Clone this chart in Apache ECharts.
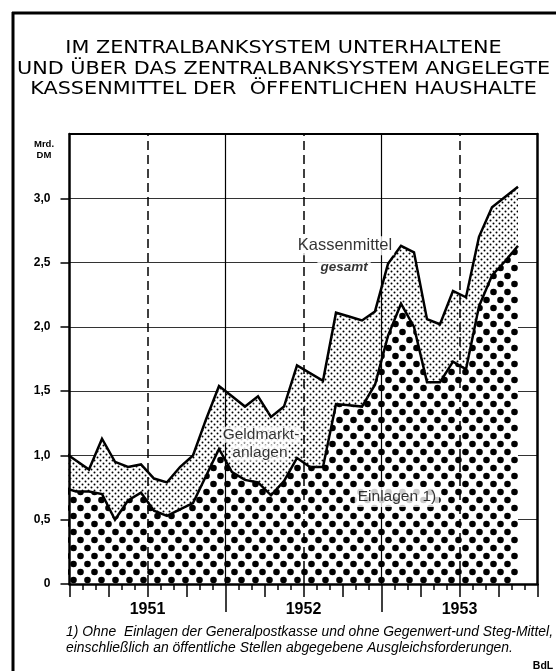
<!DOCTYPE html>
<html><head><meta charset="utf-8">
<script src="https://cdn.jsdelivr.net/npm/echarts@6/dist/echarts.min.js"></script>
<style>html,body{margin:0;padding:0;background:#fff}#c{width:556px;height:671px}</style>
</head><body><div id="c"></div>
<script>
// ---- data (Mrd. DM), monthly, Dez 1950 .. Nov 1953 ----
const months = ['Dez 1950',
  'Jan 1951','Feb 1951','Mär 1951','Apr 1951','Mai 1951','Jun 1951','Jul 1951','Aug 1951','Sep 1951','Okt 1951','Nov 1951','Dez 1951',
  'Jan 1952','Feb 1952','Mär 1952','Apr 1952','Mai 1952','Jun 1952','Jul 1952','Aug 1952','Sep 1952','Okt 1952','Nov 1952','Dez 1952',
  'Jan 1953','Feb 1953','Mär 1953','Apr 1953','Mai 1953','Jun 1953','Jul 1953','Aug 1953','Sep 1953','Okt 1953','Nov 1953'];
const kassenmittelGesamt = [1.03,0.96,0.89,1.13,0.95,0.91,0.93,0.82,0.79,0.91,1.00,1.28,
  1.54,1.46,1.38,1.46,1.30,1.38,1.70,1.64,1.58,2.11,2.08,2.05,
  2.12,2.49,2.63,2.58,2.06,2.02,2.28,2.23,2.70,2.93,3.01,3.09];
const einlagen = [0.75,0.72,0.72,0.70,0.50,0.65,0.71,0.57,0.53,0.58,0.63,0.84,
  1.05,0.87,0.81,0.79,0.69,0.80,0.98,0.91,0.91,1.40,1.39,1.38,
  1.55,1.93,2.18,2.00,1.57,1.57,1.73,1.67,2.16,2.40,2.51,2.63];
const yearLabels = ['1951','1952','1953'];
const yTicks = [0,0.5,1.0,1.5,2.0,2.5,3.0];
const titleLines = ['IM ZENTRALBANKSYSTEM UNTERHALTENE',
  'UND ÜBER DAS ZENTRALBANKSYSTEM ANGELEGTE',
  'KASSENMITTEL DER  ÖFFENTLICHEN HAUSHALTE'];
const footnoteLines = ['1) Ohne  Einlagen der Generalpostkasse und ohne Gegenwert-und Steg-Mittel,',
  'einschließlich an öffentliche Stellen abgegebene Ausgleichsforderungen.'];

// months measured from 1 Jan 1951; each monthly value plotted at mid-month
const monthPos = i => i - 0.5;
const totalData = kassenmittelGesamt.map((v, i) => [monthPos(i), v]);
const einlagenData = einlagen.map((v, i) => [monthPos(i), v]);
const nMonths = yearLabels.length * 12;

function makePattern(w, h, dots, r) {
  const c = document.createElement('canvas'); c.width = w; c.height = h;
  const g = c.getContext('2d');
  g.fillStyle = '#fff'; g.fillRect(0, 0, w, h);
  g.fillStyle = '#000';
  dots.forEach(([x, y]) => { g.beginPath(); g.arc(x, y, r, 0, Math.PI * 2); g.fill(); });
  return c;
}
const finePattern = makePattern(6, 6, [[1.5, 1.5], [4.5, 4.5]], 1.0);
const bigPattern = makePattern(14, 16, [[3.5, 4], [10.5, 12]], 3.3);

function textWidth(text, font) {
  const g = document.createElement('canvas').getContext('2d');
  g.font = font; return g.measureText(text).width;
}
const titleFont = '17px "DejaVu Sans"';
const titleScale = 533 / textWidth(titleLines[1], titleFont);
const footFont = 'italic 14px "Liberation Sans"';
const footScale = 487 / textWidth(footnoteLines[0], footFont);

const chart = echarts.init(document.getElementById('c'), null, {renderer: 'canvas'});

const yearBounds = yearLabels.slice(1).map((_, i) => (i + 1) * 12);
const yearMids = yearLabels.map((_, i) => i * 12 + 6);

const labelStyle = {fontFamily: 'Liberation Sans', color: '#000', backgroundColor: '#fff'};

chart.setOption({
  backgroundColor: '#fff',
  animation: false,
  grid: {left: 69.5, right: 18.5, top: 134, bottom: 87, containLabel: false},
  xAxis: [
    {type: 'value', position: 'bottom', min: 0, max: nMonths, interval: 3, z: 10,
      axisLine: {show: true, onZero: false, lineStyle: {color: '#000', width: 2.5}},
      axisTick: {show: true, length: 13, lineStyle: {color: '#000', width: 1.5}},
      minorTick: {show: true, splitNumber: 3, length: 6, lineStyle: {color: '#000', width: 1.5}},
      axisLabel: {show: true, customValues: yearMids, margin: 18,
        formatter: v => yearLabels[Math.round((v - 6) / 12)],
        fontFamily: 'Liberation Sans', fontWeight: 'bold', fontSize: 16, color: '#000'},
      splitLine: {show: false}, minorSplitLine: {show: false}},
    {type: 'value', position: 'top', min: 0, max: nMonths,
      axisLine: {show: true, onZero: false, lineStyle: {color: '#000', width: 2}},
      axisTick: {show: false}, axisLabel: {show: false}, splitLine: {show: false}},
    {type: 'value', position: 'bottom', min: 0, max: nMonths, z: 10,
      axisLine: {show: false},
      axisTick: {show: true, customValues: yearBounds, length: 28, lineStyle: {color: '#000', width: 1.5}},
      axisLabel: {show: false}, splitLine: {show: false}}
  ],
  yAxis: [
    {type: 'value', position: 'left', min: 0, max: 3.5, interval: 0.5, z: 10,
      axisLine: {show: true, onZero: false, lineStyle: {color: '#000', width: 2.5}},
      axisTick: {show: true, customValues: yTicks, length: 9, lineStyle: {color: '#000', width: 1.5}},
      axisLabel: {show: true, customValues: yTicks, margin: 19,
        formatter: v => v === 0 ? '0' : v.toFixed(1).replace('.', ','),
        fontFamily: 'Liberation Sans', fontWeight: 'bold', fontSize: 12, color: '#000'},
      splitLine: {show: false}},
    {type: 'value', position: 'right', min: 0, max: 3.5, interval: 0.5,
      axisLine: {show: true, onZero: false, lineStyle: {color: '#000', width: 2.5}},
      axisTick: {show: false}, axisLabel: {show: false},
      splitLine: {show: true, lineStyle: {color: '#333', width: 1}}}
  ],
  series: [
    {type: 'line', name: 'raster', z: 1, xAxisIndex: 0, yAxisIndex: 0,
      data: [[0, 0]], showSymbol: false, symbol: 'none', lineStyle: {width: 0, opacity: 0},
      markLine: {silent: true, symbol: 'none', label: {show: false},
        data: yearBounds.map(v => ({xAxis: v, lineStyle: {color: '#000', width: 1.2, type: 'solid'}}))
          .concat(yearMids.map(v => ({xAxis: v, lineStyle: {color: '#000', width: 1.5, type: [9, 5]}})))}},
    {type: 'line', name: 'Kassenmittel gesamt', z: 2, xAxisIndex: 0, yAxisIndex: 0,
      data: totalData, symbol: 'none', clip: true,
      lineStyle: {color: '#000', width: 2.5, join: 'miter'},
      areaStyle: {color: {image: finePattern, repeat: 'repeat'}, opacity: 1}},
    {type: 'line', name: 'Einlagen', z: 3, xAxisIndex: 0, yAxisIndex: 0,
      data: einlagenData, symbol: 'none', clip: true,
      lineStyle: {color: '#000', width: 2.5, join: 'miter'},
      areaStyle: {color: {image: bigPattern, repeat: 'repeat'}, opacity: 1}},
    {type: 'scatter', name: 'labels', z: 10, xAxisIndex: 0, yAxisIndex: 0, symbolSize: 0, silent: true,
      label: {show: true, position: 'inside'},
      data: [
        {value: [21.19, 2.63], label: Object.assign({}, labelStyle, {formatter: 'Kassenmittel', fontSize: 16.5, padding: [1, 2]})},
        {value: [21.12, 2.466], label: Object.assign({}, labelStyle, {formatter: 'gesamt', fontSize: 13.5, fontStyle: 'italic', fontWeight: 'bold', padding: [0, 3]})},
        {value: [14.73, 1.16], label: Object.assign({}, labelStyle, {formatter: 'Geldmarkt-', fontSize: 15.5, padding: [0, 1]})},
        {value: [14.65, 1.02], label: Object.assign({}, labelStyle, {formatter: 'anlagen', fontSize: 15.5, padding: [0, 1]})},
        {value: [25.19, 0.677], label: Object.assign({}, labelStyle, {formatter: 'Einlagen 1)', fontSize: 15.5, padding: [2, 3]})}
      ]}
  ],
  graphic: [
    {type: 'line', shape: {x1: 13, y1: 12, x2: 13, y2: 671}, style: {stroke: '#000', lineWidth: 3}},
    {type: 'line', shape: {x1: 12, y1: 13, x2: 556, y2: 13}, style: {stroke: '#000', lineWidth: 3}},
    ...titleLines.map((t, i) => ({type: 'text', x: 283.5, y: 49 + i * 20.5, scaleX: titleScale,
      style: {text: t, fontSize: 17, fontFamily: 'DejaVu Sans', fill: '#000',
        align: 'center', verticalAlign: 'middle', textAlign: 'center', textVerticalAlign: 'middle'}})),
    {type: 'text', x: 44, y: 144, style: {text: 'Mrd.', fontSize: 9.5, fontWeight: 'bold', fontFamily: 'Liberation Sans', fill: '#000', align: 'center', verticalAlign: 'middle', textAlign: 'center', textVerticalAlign: 'middle'}},
    {type: 'text', x: 44, y: 155, style: {text: 'DM', fontSize: 9.5, fontWeight: 'bold', fontFamily: 'Liberation Sans', fill: '#000', align: 'center', verticalAlign: 'middle', textAlign: 'center', textVerticalAlign: 'middle'}},
    ...footnoteLines.map((t, i) => ({type: 'text', x: 66, y: 632 + i * 16, scaleX: footScale,
      style: {text: t, fontSize: 14, fontStyle: 'italic', fontFamily: 'Liberation Sans', fill: '#000',
        align: 'left', verticalAlign: 'middle', textAlign: 'left', textVerticalAlign: 'middle'}})),
    {type: 'text', x: 543, y: 666, style: {text: 'BdL', fontSize: 10.5, fontWeight: 'bold', fontFamily: 'Liberation Sans', fill: '#000', align: 'center', verticalAlign: 'middle', textAlign: 'center', textVerticalAlign: 'middle'}}
  ]
});
</script></body></html>
